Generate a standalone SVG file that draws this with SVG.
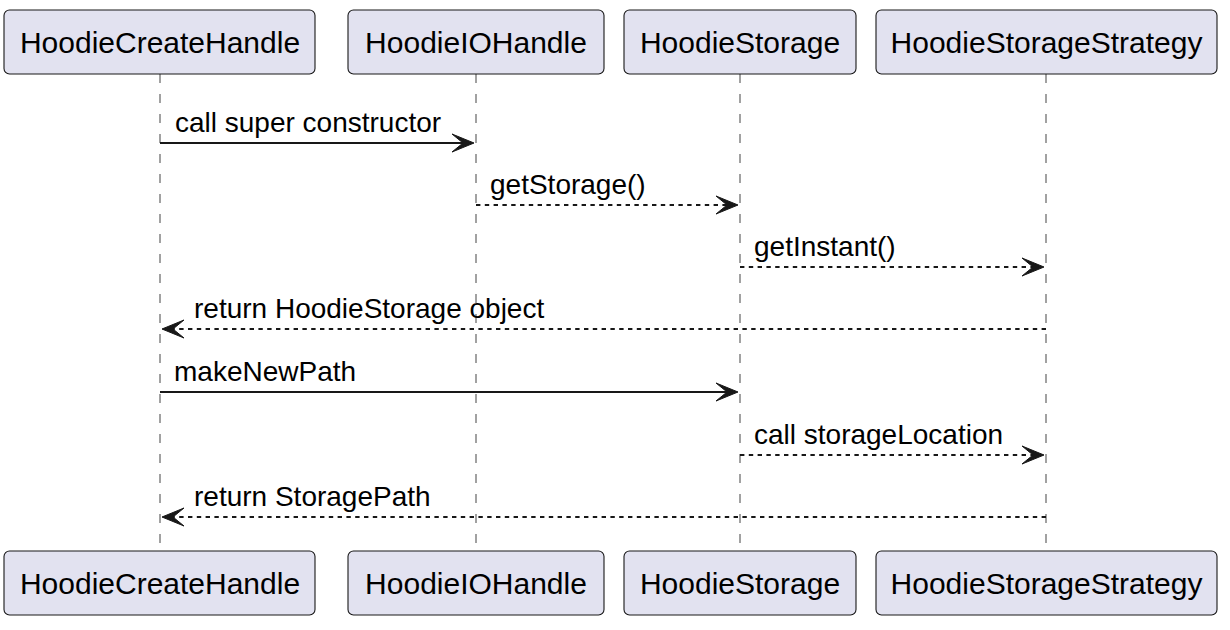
<svg xmlns="http://www.w3.org/2000/svg" width="1230" height="630" viewBox="0 0 1230 630">
<style>
.box{fill:#E2E2F0;stroke:#181818;stroke-width:1.1}
.pt{font-family:"Liberation Sans",Arial,sans-serif;font-size:30px;fill:#000;text-anchor:middle}
.life{stroke:#8a8a8a;stroke-width:1.6;stroke-dasharray:9,11;fill:none}
.msg{stroke:#181818;stroke-width:2;fill:none}
.dash{stroke-dasharray:4.4,4.4}
.head{fill:#181818;stroke:#181818;stroke-width:1}
.ml{font-family:"Liberation Sans",Arial,sans-serif;font-size:28px;fill:#000}
</style>
<rect width="1230" height="630" fill="#fff"/>
<g id="lifelines">
<line class="life" x1="160" y1="74" x2="160" y2="551"/>
<line class="life" x1="476" y1="74" x2="476" y2="551"/>
<line class="life" x1="740" y1="74" x2="740" y2="551"/>
<line class="life" x1="1046" y1="74" x2="1046" y2="551"/>
</g>
<g id="HoodieCreateHandle">
<rect class="box" x="4" y="10" width="311" height="64" rx="5.5"/>
<text class="pt" x="160" y="53">HoodieCreateHandle</text>
<rect class="box" x="4" y="551" width="311" height="64" rx="5.5"/>
<text class="pt" x="160" y="594">HoodieCreateHandle</text>
</g>
<g id="HoodieIOHandle">
<rect class="box" x="348" y="10" width="256" height="64" rx="5.5"/>
<text class="pt" x="476" y="53">HoodieIOHandle</text>
<rect class="box" x="348" y="551" width="256" height="64" rx="5.5"/>
<text class="pt" x="476" y="594">HoodieIOHandle</text>
</g>
<g id="HoodieStorage">
<rect class="box" x="624" y="10" width="232" height="64" rx="5.5"/>
<text class="pt" x="740" y="53">HoodieStorage</text>
<rect class="box" x="624" y="551" width="232" height="64" rx="5.5"/>
<text class="pt" x="740" y="594">HoodieStorage</text>
</g>
<g id="HoodieStorageStrategy">
<rect class="box" x="876" y="10" width="341" height="64" rx="5.5"/>
<text class="pt" x="1046.5" y="53">HoodieStorageStrategy</text>
<rect class="box" x="876" y="551" width="341" height="64" rx="5.5"/>
<text class="pt" x="1046.5" y="594">HoodieStorageStrategy</text>
</g>
<g id="connectors">
<line class="msg" x1="160" y1="143" x2="470" y2="143"/>
<polygon class="head" points="474,143 452,134 463,143 452,152"/>
<text class="ml" x="175" y="132">call super constructor</text>

<line class="msg dash" x1="476" y1="205" x2="734" y2="205"/>
<polygon class="head" points="738,205 716,196 727,205 716,214"/>
<text class="ml" x="490" y="194">getStorage()</text>

<line class="msg dash" x1="740" y1="267" x2="1040" y2="267"/>
<polygon class="head" points="1044,267 1022,258 1033,267 1022,276"/>
<text class="ml" x="754" y="256">getInstant()</text>

<line class="msg dash" x1="1046" y1="329" x2="166" y2="329"/>
<polygon class="head" points="162,329 184,320 173,329 184,338"/>
<text class="ml" x="194" y="318">return HoodieStorage object</text>

<line class="msg" x1="160" y1="392" x2="734" y2="392"/>
<polygon class="head" points="738,392 716,383 727,392 716,401"/>
<text class="ml" x="174" y="381">makeNewPath</text>

<line class="msg dash" x1="740" y1="455" x2="1040" y2="455"/>
<polygon class="head" points="1044,455 1022,446 1033,455 1022,464"/>
<text class="ml" x="754" y="444">call storageLocation</text>

<line class="msg dash" x1="1046" y1="517" x2="166" y2="517"/>
<polygon class="head" points="162,517 184,508 173,517 184,526"/>
<text class="ml" x="194" y="506">return StoragePath</text>
</g>
</svg>
